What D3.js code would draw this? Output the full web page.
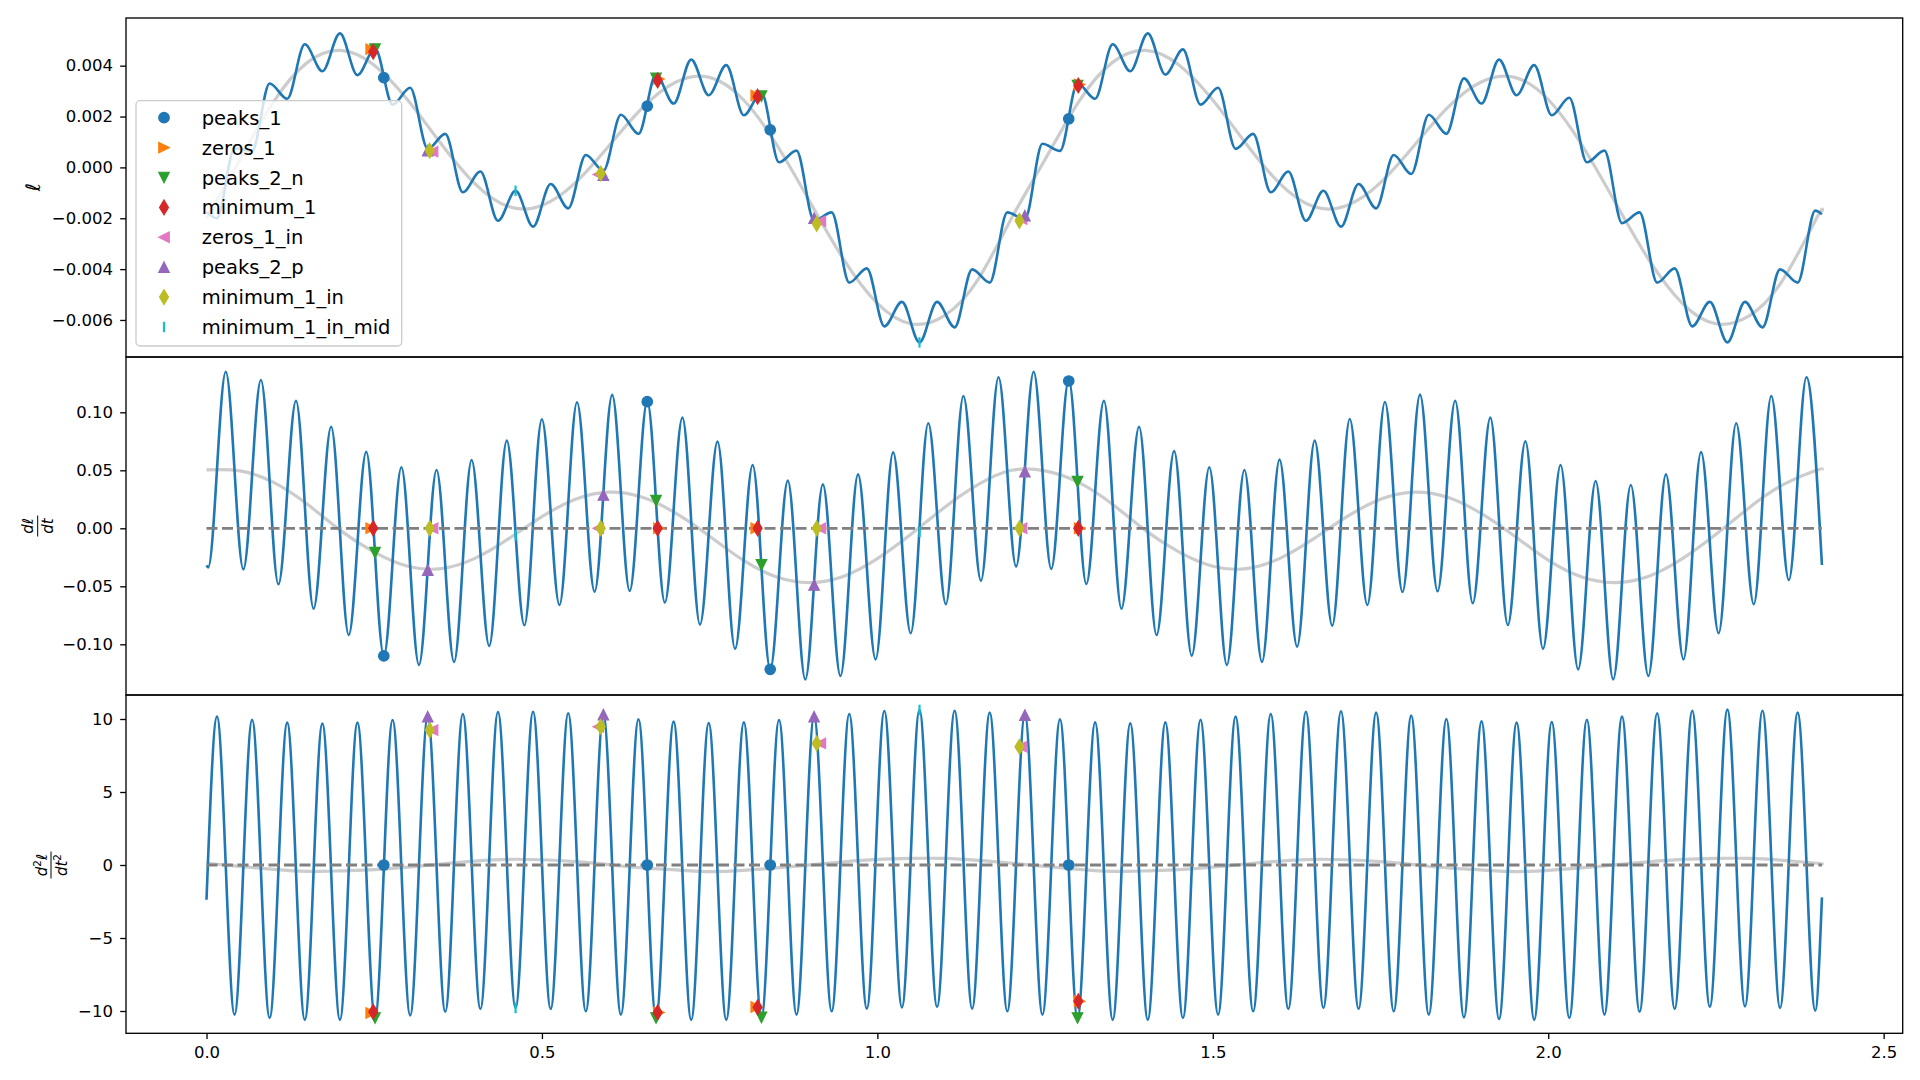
<!DOCTYPE html>
<html>
<head>
<meta charset="utf-8">
<title>Derivatives of l</title>
<script src="https://cdn.jsdelivr.net/npm/d3@7/dist/d3.min.js"></script>
<style>
  html, body { margin: 0; padding: 0; background: #ffffff; }
  #chart { display: block; font-family: "DejaVu Sans", sans-serif; }
  .axis .tick text { font-family: "DejaVu Sans", sans-serif; font-size: 16.5px; fill: #000; }
  .axis .tick line { stroke: #000; stroke-width: 1.33px; }
  .axis path.domain { display: none; }
</style>
</head>
<body>
<svg id="chart" width="1920" height="1080"></svg>
<script>
// ---- values ----

// times of the fast extrema of l and d2l/dt2 (half-period grid)
const tFast = [0.0156, 0.0418, 0.0680, 0.0941, 0.1203, 0.1465, 0.1727, 0.1989, 0.2250, 0.2512,
  0.2774, 0.3036, 0.3298, 0.3559, 0.3821, 0.4083, 0.4345, 0.4607, 0.4868, 0.5130,
  0.5392, 0.5654, 0.5916, 0.6177, 0.6439, 0.6701, 0.6963, 0.7225, 0.7486, 0.7748,
  0.8010, 0.8272, 0.8534, 0.8795, 0.9057, 0.9319, 0.9581, 0.9843, 1.0104, 1.0366,
  1.0628, 1.0890, 1.1152, 1.1413, 1.1675, 1.1937, 1.2199, 1.2461, 1.2722, 1.2984,
  1.3246, 1.3508, 1.3770, 1.4031, 1.4293, 1.4555, 1.4817, 1.5079, 1.5340, 1.5602,
  1.5864, 1.6126, 1.6388, 1.6649, 1.6911, 1.7173, 1.7435, 1.7697, 1.7958, 1.8220,
  1.8482, 1.8744, 1.9006, 1.9267, 1.9529, 1.9791, 2.0053, 2.0315, 2.0576, 2.0838,
  2.1100, 2.1362, 2.1624, 2.1885, 2.2147, 2.2409, 2.2671, 2.2933, 2.3194, 2.3456,
  2.3718, 2.3980];

// l at those times
const ellFast = [-0.00200, 0.00075, 0.00065, 0.00330, 0.00270, 0.00484, 0.00378, 0.00527, 0.00363, 0.00468,
  0.00247, 0.00313, 0.00073, 0.00132, -0.00098, -0.00016, -0.00210, -0.00092, -0.00233, -0.00065,
  -0.00161, 0.00049, -0.00013, 0.00207, 0.00132, 0.00365, 0.00251, 0.00424, 0.00284, 0.00402,
  0.00205, 0.00294, 0.00020, 0.00066, -0.00210, -0.00177, -0.00453, -0.00397, -0.00625, -0.00529,
  -0.00688, -0.00529, -0.00629, -0.00401, -0.00453, -0.00177, -0.00204, 0.00093, 0.00065, 0.00330,
  0.00270, 0.00484, 0.00378, 0.00527, 0.00365, 0.00464, 0.00247, 0.00313, 0.00073, 0.00132,
  -0.00098, -0.00016, -0.00210, -0.00092, -0.00233, -0.00065, -0.00161, 0.00049, -0.00026, 0.00207,
  0.00132, 0.00350, 0.00251, 0.00424, 0.00284, 0.00402, 0.00205, 0.00274, 0.00020, 0.00066,
  -0.00219, -0.00177, -0.00453, -0.00397, -0.00625, -0.00529, -0.00688, -0.00529, -0.00629, -0.00401,
  -0.00453, -0.00170];

// d2l/dt2 peaks and troughs at the same times
const d2EllFast = [10.16, -10.25, 9.95, -10.48, 9.75, -10.6, 9.68, -10.6, 9.75, -10.48,
  9.93, -10.3, 10.16, -10.05, 10.34, -9.86, 10.48, -9.79, 10.5, -9.86,
  10.39, -10.02, 10.3, -10.25, 9.98, -10.48, 9.82, -10.6, 9.72, -10.6,
  9.77, -10.44, 9.93, -10.25, 10.16, -10.02, 10.34, -9.84, 10.55, -9.75,
  10.62, -9.72, 10.57, -9.84, 10.44, -10.02, 10.27, -10.25, 9.98, -10.48,
  9.77, -10.6, 9.7, -10.6, 9.77, -10.48, 9.95, -10.25, 10.16, -10.02,
  10.34, -9.86, 10.5, -9.79, 10.53, -9.86, 10.44, -10.02, 10.23, -10.25,
  10.0, -10.44, 9.84, -10.55, 9.75, -10.6, 9.79, -10.48, 9.95, -10.25,
  10.16, -10.05, 10.39, -9.86, 10.57, -9.72, 10.64, -9.68, 10.57, -9.79,
  10.44, -9.98];

// times of the dl/dt peaks and troughs
const tMid = [0.0025, 0.0287, 0.0549, 0.0811, 0.1072, 0.1334, 0.1596, 0.1858, 0.2120, 0.2381,
  0.2643, 0.2905, 0.3167, 0.3429, 0.3690, 0.3952, 0.4214, 0.4476, 0.4738, 0.4999,
  0.5261, 0.5523, 0.5785, 0.6047, 0.6308, 0.6570, 0.6832, 0.7094, 0.7356, 0.7617,
  0.7879, 0.8141, 0.8403, 0.8665, 0.8926, 0.9188, 0.9450, 0.9712, 0.9974, 1.0235,
  1.0497, 1.0759, 1.1021, 1.1283, 1.1544, 1.1806, 1.2068, 1.2330, 1.2592, 1.2853,
  1.3115, 1.3377, 1.3639, 1.3901, 1.4162, 1.4424, 1.4686, 1.4948, 1.5210, 1.5471,
  1.5733, 1.5995, 1.6257, 1.6519, 1.6780, 1.7042, 1.7304, 1.7566, 1.7828, 1.8089,
  1.8351, 1.8613, 1.8875, 1.9137, 1.9398, 1.9660, 1.9922, 2.0184, 2.0446, 2.0707,
  2.0969, 2.1231, 2.1493, 2.1755, 2.2016, 2.2278, 2.2540, 2.2802, 2.3064, 2.3325,
  2.3587, 2.3849];

const dEllMid = [-0.0337, 0.135, -0.0354, 0.1278, -0.0483, 0.110, -0.0693, 0.0876, -0.092, 0.066,
  -0.110, 0.0526, -0.1178, 0.0503, -0.1152, 0.0589, -0.1014, 0.0756, -0.0836, 0.094,
  -0.0661, 0.1086, -0.0546, 0.115, -0.054, 0.1095, -0.064, 0.0954, -0.083, 0.0747,
  -0.1039, 0.0546, -0.1216, 0.0411, -0.1302, 0.0379, -0.1273, 0.0465, -0.113, 0.0655,
  -0.0905, 0.0905, -0.0655, 0.114, -0.0451, 0.1302, -0.033, 0.135, -0.035, 0.128,
  -0.048, 0.110, -0.0693, 0.0876, -0.092, 0.0666, -0.1098, 0.0526, -0.1178, 0.0503,
  -0.1152, 0.0592, -0.102, 0.0756, -0.0839, 0.0942, -0.0661, 0.1089, -0.0549, 0.1152,
  -0.0543, 0.110, -0.0646, 0.0954, -0.0834, 0.075, -0.1039, 0.0546, -0.1216, 0.0408,
  -0.1302, 0.0373, -0.1273, 0.0465, -0.113, 0.0658, -0.0905, 0.0905, -0.0655, 0.114,
  -0.0446, 0.1302];

// first and last sample of each curve
const tEdge = [0, 2.408];
const ellEdge = [-0.00175, -0.00184];
const dEllEdge = [-0.032, -0.0316];
const d2EllEdge = [-2.38, -2.22];
const zeroLevel = [0, 0];

// slow (grey) components
const tSlow = [0, 0.05, 0.1, 0.15, 0.2, 0.25, 0.3, 0.35, 0.4, 0.45,
  0.5, 0.55, 0.6, 0.65, 0.7, 0.75, 0.8, 0.85, 0.9, 0.95,
  1.0, 1.05, 1.1, 1.15, 1.2, 1.25, 1.3, 1.35, 1.4, 1.45,
  1.5, 1.55, 1.6, 1.65, 1.7, 1.75, 1.8, 1.85, 1.9, 1.95,
  2.0, 2.05, 2.1, 2.15, 2.2, 2.25, 2.3, 2.35, 2.4, 2.408];

const ellSlow = [-0.00200, 0.00031, 0.00258, 0.00412, 0.00460, 0.00402, 0.00265, 0.00092, -0.00064, -0.00154,
  -0.00150, -0.00060, 0.00085, 0.00235, 0.00336, 0.00354, 0.00267, 0.00089, -0.00138, -0.00363,
  -0.00535, -0.00615, -0.00583, -0.00441, -0.00200, 0.00031, 0.00258, 0.00412, 0.00460, 0.00402,
  0.00265, 0.00092, -0.00064, -0.00154, -0.00150, -0.00060, 0.00085, 0.00235, 0.00336, 0.00354,
  0.00267, 0.00089, -0.00138, -0.00363, -0.00535, -0.00615, -0.00583, -0.00441, -0.00200, -0.00175];

const dEllSlow = [0.0503, 0.0495, 0.0396, 0.0209, -0.0020, -0.0205, -0.0327, -0.0347, -0.0259, -0.0091,
  0.0100, 0.0250, 0.0312, 0.0267, 0.0128, -0.0068, -0.0275, -0.0420, -0.0468, -0.0413,
  -0.0262, -0.0052, 0.0180, 0.0376, 0.0500, 0.0495, 0.0396, 0.0209, -0.0020, -0.0205,
  -0.0327, -0.0347, -0.0259, -0.0091, 0.0100, 0.0250, 0.0312, 0.0267, 0.0128, -0.0068,
  -0.0275, -0.0420, -0.0468, -0.0413, -0.0262, -0.0052, 0.0180, 0.0376, 0.0500, 0.0505];

const d2EllSlow = [0.12, -0.10, -0.30, -0.44, -0.40, -0.32, -0.15, 0.07, 0.27, 0.39,
  0.36, 0.23, 0.02, -0.20, -0.34, -0.45, -0.37, -0.20, 0.01, 0.22,
  0.38, 0.45, 0.45, 0.32, 0.12, -0.10, -0.30, -0.44, -0.40, -0.32,
  -0.15, 0.07, 0.27, 0.39, 0.36, 0.23, 0.02, -0.20, -0.34, -0.45,
  -0.37, -0.20, 0.01, 0.22, 0.38, 0.45, 0.45, 0.32, 0.12, 0.08];

// marked points
const markerNames = ["peaks_1", "zeros_1", "peaks_2_n", "minimum_1", "zeros_1_in", "peaks_2_p", "minimum_1_in", "minimum_1_in_mid"];
const markerTimes = [
  [0.2643, 0.6570, 0.8403, 1.2853],
  [0.2455, 0.6745, 0.8195, 1.3015],
  [0.2512, 0.6701, 0.8272, 1.2984],
  [0.2485, 0.6725, 0.8215, 1.2995],
  [0.3370, 0.5840, 0.9150, 1.2150],
  [0.3298, 0.5916, 0.9057, 1.2199],
  [0.3327, 0.5876, 0.9096, 1.2118],
  [0.4607, 1.0628]
];
const markerEll = [
  [0.00353, 0.00241, 0.00148, 0.00191],
  [0.00465, 0.00348, 0.00283, 0.00326],
  [0.00465, 0.00350, 0.00280, 0.00322],
  [0.00455, 0.00342, 0.00278, 0.00322],
  [0.00062, -0.00028, -0.00212, -0.00203],
  [0.00066, -0.00030, -0.00200, -0.00190],
  [0.00066, -0.00024, -0.00222, -0.00210],
  [-0.00092, -0.00688]
];
const markerDEll = [
  [-0.1100, 0.1092, -0.1216, 0.1270],
  [0, 0, 0, 0],
  [-0.0210, 0.0238, -0.0316, 0.0402],
  [0, 0, 0, 0],
  [0, 0, 0, 0],
  [-0.0360, 0.0287, -0.0489, 0.0488],
  [0, 0, 0, 0],
  [-0.0060, -0.0030]
];
const markerD2Ell = [
  [0, 0, 0, 0],
  [-10.14, -10.10, -9.72, -9.33],
  [-10.48, -10.48, -10.44, -10.48],
  [-10.05, -10.10, -9.75, -9.33],
  [9.24, 9.47, 8.33, 8.10],
  [10.16, 10.30, 10.16, 10.27],
  [9.24, 9.47, 8.33, 8.10],
  [-9.79, 10.62]
];

const xTicks = [0, 0.5, 1.0, 1.5, 2.0, 2.5];
const ellTicks = [-0.006, -0.004, -0.002, 0, 0.002, 0.004];
const dEllTicks = [-0.10, -0.05, 0, 0.05, 0.10];
const d2EllTicks = [-10, -5, 0, 5, 10];

// ---- styling ----
const markerStyles = [
  {color: "#1f77b4", shape: "circle"},
  {color: "#ff7f0e", shape: "triangle-right"},
  {color: "#2ca02c", shape: "triangle-down"},
  {color: "#d62728", shape: "thin-diamond"},
  {color: "#e377c2", shape: "triangle-left"},
  {color: "#9467bd", shape: "triangle-up"},
  {color: "#bcbd22", shape: "thin-diamond"},
  {color: "#17becf", shape: "vline"}
];
const MARKER_SIZE = 10.5;

const zip = (ts, vs) => ts.map((t, i) => ({t: t, v: vs[i]}));

function markerPath(shape, s) {
  const h = s / 2;
  switch (shape) {
    case "circle": return d3.symbol(d3.symbolCircle, Math.PI * h * h)();
    case "triangle-up": return `M0,${-h}L${h},${h}L${-h},${h}Z`;
    case "triangle-down": return `M0,${h}L${h},${-h}L${-h},${-h}Z`;
    case "triangle-right": return `M${h},0L${-h},${h}L${-h},${-h}Z`;
    case "triangle-left": return `M${-h},0L${h},${h}L${h},${-h}Z`;
    case "thin-diamond": {
      const dy = s * Math.SQRT1_2, dx = dy * 0.6;
      return `M0,${-dy}L${dx},0L0,${dy}L${-dx},0Z`;
    }
    default: return `M0,${-h}L0,${h}`;
  }
}

function drawMarker(sel, style) {
  sel.attr("d", markerPath(style.shape, MARKER_SIZE))
    .attr("fill", style.shape === "vline" ? "none" : style.color)
    .attr("stroke", style.color)
    .attr("stroke-linejoin", "miter")
    .attr("stroke-width", style.shape === "vline" ? 2.2 : 1.2);
}

class DerivativePanel {

  constructor(_config, _curve, _slow, _marks) {
    this.config = {
      parentElement: _config.parentElement,
      containerWidth: _config.containerWidth || 1920,
      top: _config.top,
      height: _config.height,
      margin: _config.margin || {left: 126, right: 17.3},
      yDomain: _config.yDomain,
      yTicks: _config.yTicks,
      yFormat: _config.yFormat,
      zeroLine: _config.zeroLine || false,
      xAxis: _config.xAxis || false
    };
    this.curve = _curve;
    this.slow = _slow;
    this.marks = _marks;
    this.initVis();
  }

  initVis() {
    let vis = this;

    vis.width = vis.config.containerWidth - vis.config.margin.left - vis.config.margin.right;
    vis.height = vis.config.height;

    vis.xScale = d3.scaleLinear()
      .domain([-0.12, 2.5284])
      .range([0, vis.width]);

    vis.yScale = d3.scaleLinear()
      .domain(vis.config.yDomain)
      .range([vis.height, 0]);

    vis.yAxis = d3.axisLeft(vis.yScale)
      .tickValues(vis.config.yTicks)
      .tickFormat(vis.config.yFormat)
      .tickSize(5.8)
      .tickPadding(7.3)
      .tickSizeOuter(0);

    vis.xAxis = d3.axisBottom(vis.xScale)
      .tickValues(xTicks)
      .tickFormat(d3.format(".1f"))
      .tickSize(5.8)
      .tickPadding(7.5)
      .tickSizeOuter(0);

    vis.chart = d3.select(vis.config.parentElement).append("g")
      .attr("transform", `translate(${vis.config.margin.left},${vis.config.top})`);

    vis.line = d3.line()
      .x(d => vis.xScale(d.t))
      .y(d => vis.yScale(d.v));

    vis.renderVis();
  }

  renderVis() {
    let vis = this;

    // slow component
    vis.chart.append("path")
      .datum(vis.slow)
      .attr("fill", "none")
      .attr("stroke", "#808080")
      .attr("stroke-opacity", 0.4)
      .attr("stroke-width", 3.2)
      .attr("d", vis.line.curve(d3.curveNatural));

    // full signal
    vis.chart.append("path")
      .datum(vis.curve)
      .attr("fill", "none")
      .attr("stroke", "#1f77b4")
      .attr("stroke-width", 2.6)
      .attr("stroke-linejoin", "round")
      .attr("d", vis.line.curve(d3.curveMonotoneX));

    if (vis.config.zeroLine) {
      vis.chart.append("path")
        .datum(zip(tEdge, zeroLevel))
        .attr("fill", "none")
        .attr("stroke", "#808080")
        .attr("stroke-width", 2.8)
        .attr("stroke-dasharray", "11,4.5")
        .attr("d", vis.line.curve(d3.curveLinear));
    }

    vis.marks.forEach((pts, j) => {
      vis.chart.append("g")
        .selectAll("path")
        .data(pts)
        .join("path")
        .attr("transform", d => `translate(${vis.xScale(d.t)},${vis.yScale(d.v)})`)
        .call(drawMarker, markerStyles[j]);
    });

    vis.chart.append("g")
      .attr("class", "axis y-axis")
      .call(vis.yAxis);

    if (vis.config.xAxis) {
      vis.chart.append("g")
        .attr("class", "axis x-axis")
        .attr("transform", `translate(0,${vis.height})`)
        .call(vis.xAxis);
    }

    vis.chart.append("rect")
      .attr("width", vis.width)
      .attr("height", vis.height)
      .attr("fill", "none")
      .attr("stroke", "#000")
      .attr("stroke-width", 1.33);
  }
}

const svg = d3.select("#chart");
const markFor = values => markerTimes.map((ts, j) => zip(ts, values[j]));

new DerivativePanel({
  parentElement: "#chart", top: 18, height: 339,
  yDomain: [-0.007456, 0.005875], yTicks: ellTicks, yFormat: d3.format(".3f")
}, [zip([tEdge[0]], [ellEdge[0]]), zip(tFast, ellFast), zip([tEdge[1]], [ellEdge[1]])].flat(),
   zip(tSlow, ellSlow), markFor(markerEll));

new DerivativePanel({
  parentElement: "#chart", top: 357, height: 338,
  yDomain: [-0.14371, 0.14767], yTicks: dEllTicks, yFormat: d3.format(".2f"), zeroLine: true
}, [zip([tEdge[0]], [dEllEdge[0]]), zip(tMid, dEllMid), zip([tEdge[1]], [dEllEdge[1]])].flat(),
   zip(tSlow, dEllSlow), markFor(markerDEll));

new DerivativePanel({
  parentElement: "#chart", top: 695, height: 338.3,
  yDomain: [-11.527, 11.644], yTicks: d2EllTicks, yFormat: d3.format("d"), zeroLine: true, xAxis: true
}, [zip([tEdge[0]], [d2EllEdge[0]]), zip(tFast, d2EllFast), zip([tEdge[1]], [d2EllEdge[1]])].flat(),
   zip(tSlow, d2EllSlow), markFor(markerD2Ell));

// y labels
svg.append("text")
  .attr("transform", "translate(33,187) rotate(-90)")
  .attr("text-anchor", "middle")
  .attr("dominant-baseline", "central")
  .style("font-size", "20px")
  .style("font-style", "italic")
  .text("ℓ");

function fractionLabel(cx, cy, num, den, barHalf) {
  const g = svg.append("g").attr("transform", `translate(${cx},${cy}) rotate(-90)`);
  const n = g.append("text").attr("text-anchor", "middle").attr("y", -4.4).style("font-size", "15px");
  num.forEach(p => n.append("tspan").style("font-style", p.it ? "italic" : "normal")
    .style("font-size", p.sup ? "10.5px" : null).attr("dy", p.dy || 0).text(p.s));
  g.append("line").attr("x1", -barHalf).attr("x2", barHalf)
    .attr("stroke", "#000").attr("stroke-width", 1);
  const d = g.append("text").attr("text-anchor", "middle").attr("y", 15.8).style("font-size", "15px");
  den.forEach(p => d.append("tspan").style("font-style", p.it ? "italic" : "normal")
    .style("font-size", p.sup ? "10.5px" : null).attr("dy", p.dy || 0).text(p.s));
}

fractionLabel(37.7, 526, [{s: "d", it: true}, {s: "ℓ", it: true}], [{s: "dt", it: true}], 10.5);
fractionLabel(51, 865,
  [{s: "d", it: true}, {s: "2", sup: true, dy: -6}, {s: "ℓ", it: true, dy: 6}],
  [{s: "dt", it: true}, {s: "2", sup: true, dy: -6}], 13.5);

// legend
const legend = svg.append("g").attr("class", "legend");
legend.append("rect")
  .attr("x", 136).attr("y", 100.7)
  .attr("width", 265.7).attr("height", 245.3)
  .attr("rx", 4)
  .attr("fill", "#ffffff").attr("fill-opacity", 0.8)
  .attr("stroke", "#cccccc").attr("stroke-width", 1.33);

const rows = legend.selectAll("g.row")
  .data(markerNames)
  .join("g")
  .attr("class", "row")
  .attr("transform", (d, i) => `translate(164,${117.7 + 29.9 * i})`);

rows.append("path").each(function(d, i) { d3.select(this).call(drawMarker, markerStyles[i]); });

rows.append("text")
  .attr("x", 37.7)
  .attr("y", 7)
  .style("font-size", "19.5px")
  .text(d => d);
</script>
</body>
</html>
